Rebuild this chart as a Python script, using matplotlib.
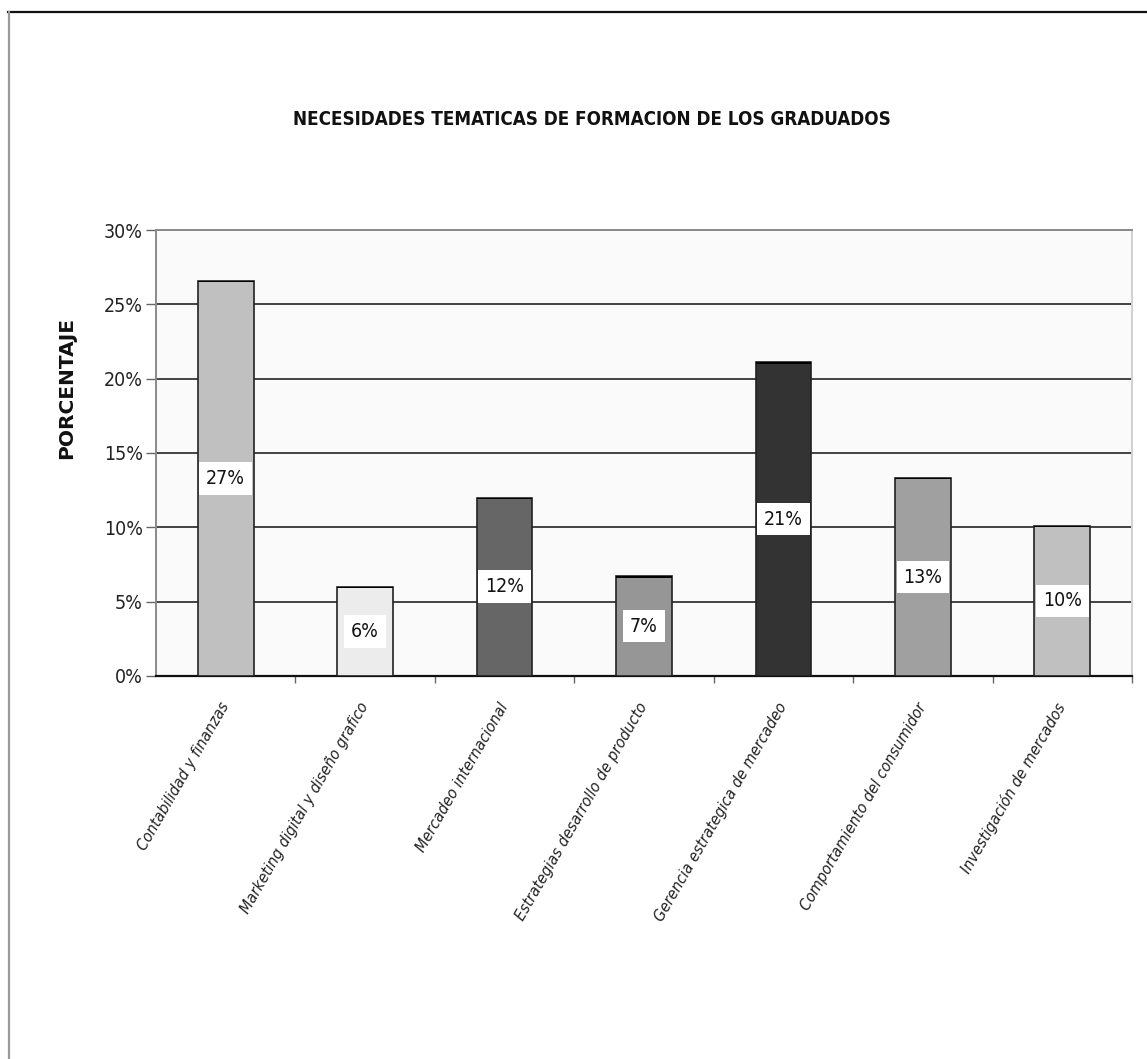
import matplotlib
matplotlib.use("Agg")
import matplotlib.pyplot as plt
from matplotlib.lines import Line2D
from matplotlib.ticker import FixedLocator, FuncFormatter
from matplotlib import font_manager

# Training needs reported by graduates (percent of responses)
categorias = [
    "Contabilidad y finanzas",
    "Marketing digital y diseño grafico",
    "Mercadeo internacional",
    "Estrategias desarrollo de producto",
    "Gerencia estrategica de mercadeo",
    "Comportamiento del consumidor",
    "Investigación de mercados",
]
porcentajes = [26.6, 6.0, 12.0, 6.7, 21.1, 13.3, 10.1]
etiquetas = ["27%", "6%", "12%", "7%", "21%", "13%", "10%"]
colores = ["#c0c0c0", "#ececec", "#666666", "#969696", "#333333", "#a0a0a0", "#c0c0c0"]
ticks_y = [0, 5, 10, 15, 20, 25, 30]


def condensed_props(size, weight="normal", style="normal"):
    """Condensed sans face for the narrow chart lettering."""
    return font_manager.FontProperties(family="DejaVu Sans", stretch="condensed",
                                       size=size, weight=weight, style=style)


fig = plt.figure(figsize=(11.47, 10.59), dpi=100)
fig.patch.set_facecolor("white")

# outer chart-area frame: dark top edge, grey left edge
fig.add_artist(Line2D([0.007, 1.0], [0.9887, 0.9887], transform=fig.transFigure,
                      color="#111111", lw=1.6))
fig.add_artist(Line2D([0.0075, 0.0075], [0.0, 0.9887], transform=fig.transFigure,
                      color="#9a9a9a", lw=1.6))

ax = fig.add_axes([0.136, 0.3617, 0.851, 0.4211])
ax.set_facecolor("#fafafa")

x = list(range(len(categorias)))
ax.bar(x, porcentajes, width=0.4, color=colores, edgecolor="#222222",
       linewidth=1.2, zorder=3)
# darker top edge on each bar
ax.bar(x, [0.08] * len(x), bottom=[p - 0.08 for p in porcentajes], width=0.4,
       color="black", linewidth=0, zorder=4)

for xi, p, lab in zip(x, porcentajes, etiquetas):
    ax.text(xi, p / 2, lab, ha="center", va="center",
            fontproperties=condensed_props(14), color="#111111", zorder=5,
            bbox=dict(boxstyle="square,pad=0.35", facecolor="white",
                      edgecolor="none"))

ax.set_xlim(-0.5, len(x) - 0.5)
ax.set_ylim(0, 30)
ax.yaxis.set_major_locator(FixedLocator(ticks_y))
ax.yaxis.set_major_formatter(FuncFormatter(lambda v, _: f"{v:.0f}%"))
ax.grid(axis="y", color="#111111", lw=1.1, zorder=1)
ax.set_axisbelow(True)

for lbl in ax.get_yticklabels():
    lbl.set_fontproperties(condensed_props(14))
    lbl.set_color("#222222")
ax.tick_params(axis="y", length=7, width=1.0, color="#666666", pad=2.5)

# category labels under each bar, boundary ticks between categories
ax.set_xticks(x)
ax.set_xticklabels(categorias, rotation=60, ha="right", va="center",
                   rotation_mode="anchor",
                   fontproperties=condensed_props(11.5, style="oblique"),
                   color="#222222")
ax.tick_params(axis="x", which="major", length=0, pad=20)
ax.set_xticks([i + 0.5 for i in x], minor=True)
ax.tick_params(axis="x", which="minor", length=5, width=1.0, color="#666666")

for side in ("left", "top", "right"):
    ax.spines[side].set_color("#8a8a8a")
    ax.spines[side].set_linewidth(1.4)
ax.spines["right"].set_color("#d0d0d0")
ax.spines["bottom"].set_color("#111111")
ax.spines["bottom"].set_linewidth(1.6)

fig.text(0.516, 0.887, "NECESIDADES TEMATICAS DE FORMACION DE LOS GRADUADOS",
         ha="center", va="center",
         fontproperties=condensed_props(13.5, weight="bold"),
         color="#111111")

fig.text(0.058, 0.634, "PORCENTAJE", rotation=90, ha="center", va="center",
         fontsize=14.5, fontweight="bold", family=["DejaVu Sans"],
         color="#111111")

fig.savefig("out.png", dpi=100)
